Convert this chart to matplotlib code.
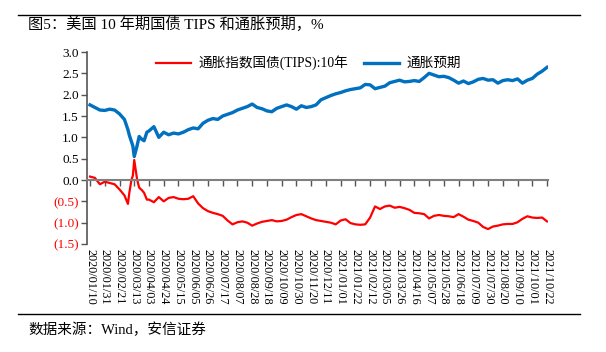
import matplotlib
matplotlib.use("Agg")
import matplotlib.pyplot as plt
import matplotlib.dates as mdates
from matplotlib.lines import Line2D
from matplotlib.ticker import FuncFormatter, MultipleLocator
import pandas as pd

plt.rcParams['font.family'] = ['Liberation Serif', 'Noto Sans CJK SC']
plt.rcParams['axes.unicode_minus'] = False

# weekly readings (Fridays) from 2020/01/10 to 2021/10/22
weekly_dates = pd.date_range('2020-01-10', '2021-10-22', freq='W-FRI')
breakeven = [
    1.76, 1.70, 1.64, 1.63, 1.66, 1.64, 1.55, 1.42, 1.05, 0.55,
    1.02, 0.92, 1.15, 1.25, 1.00, 1.12, 1.06, 1.10, 1.08, 1.12,
    1.18, 1.22, 1.20, 1.33, 1.40, 1.44, 1.42, 1.50, 1.54, 1.58,
    1.64, 1.68, 1.72, 1.78, 1.70, 1.67, 1.62, 1.60, 1.68, 1.72,
    1.76, 1.72, 1.66, 1.74, 1.70, 1.72, 1.76, 1.88, 1.93, 1.98,
    2.02, 2.05, 2.09, 2.12, 2.14, 2.16, 2.24, 2.23, 2.14, 2.17,
    2.20, 2.28, 2.31, 2.34, 2.30, 2.31, 2.33, 2.31, 2.40, 2.50,
    2.46, 2.42, 2.43, 2.40, 2.34, 2.27, 2.32, 2.26, 2.30, 2.36,
    2.38, 2.34, 2.35, 2.27, 2.33, 2.35, 2.33, 2.37, 2.27, 2.34,
    2.38, 2.48, 2.55, 2.64,
]
tips = [
    0.08, 0.05, -0.10, -0.04, -0.07, -0.10, -0.22, -0.36, -0.30, 0.47,
    -0.18, -0.30, -0.46, -0.52, -0.40, -0.50, -0.42, -0.40, -0.44, -0.45,
    -0.44, -0.38, -0.55, -0.66, -0.73, -0.77, -0.80, -0.84, -0.95, -1.04,
    -0.99, -0.97, -1.00, -1.07, -1.02, -0.98, -0.96, -0.94, -0.97, -0.96,
    -0.93, -0.87, -0.82, -0.80, -0.85, -0.90, -0.94, -0.96, -0.98, -1.00,
    -1.04, -0.95, -0.92, -1.01, -1.04, -1.05, -1.04, -0.88, -0.62, -0.68,
    -0.62, -0.60, -0.65, -0.63, -0.66, -0.70, -0.77, -0.78, -0.80, -0.90,
    -0.84, -0.82, -0.84, -0.85, -0.87, -0.80, -0.86, -0.93, -0.96, -1.00,
    -1.10, -1.15, -1.09, -1.07, -1.04, -1.03, -1.03, -0.99, -0.91, -0.85,
    -0.88, -0.89, -0.88, -0.97,
]

# extra readings around the March 2020 turmoil
crash_dates = pd.to_datetime(['2020-03-04', '2020-03-09', '2020-03-11',
                              '2020-03-17', '2020-03-24', '2020-03-31'])
crash_breakeven = [1.18, 0.90, 0.80, 0.80, 0.95, 1.12]
crash_tips = [-0.56, 0.00, 0.10, 0.02, -0.24, -0.46]

tick_dates = pd.date_range('2020-01-10', '2021-10-22', freq='21D')

title = '图5：美国 10 年期国债 TIPS 和通胀预期，%'
source = '数据来源：Wind，安信证券'
tips_label = '通胀指数国债(TIPS):10年'
be_label = '通胀预期'

df = pd.concat([
    pd.DataFrame({'date': weekly_dates, 'be': breakeven, 'tips': tips}),
    pd.DataFrame({'date': crash_dates, 'be': crash_breakeven, 'tips': crash_tips}),
]).sort_values('date')

fig = plt.figure(figsize=(6.06, 3.52), dpi=100)
ax = fig.add_axes([87 / 606, 1 - 244 / 352, 461 / 606, 192 / 352])

red = '#FF0000'
blue = '#0070C0'
ax.plot(df['date'], df['tips'], color=red, lw=1.6, label=tips_label)
ax.plot(df['date'], df['be'], color=blue, lw=2.4, label=be_label)

ax.set_ylim(-1.5, 3.0)
ax.yaxis.set_major_locator(MultipleLocator(0.5))
ax.yaxis.set_major_formatter(FuncFormatter(
    lambda v, p: f'({abs(v):.1f})' if v < -1e-9 else f'{abs(v):.1f}'))
ax.set_xlim(pd.Timestamp('2020-01-10') - pd.Timedelta(days=4.3),
            pd.Timestamp('2021-10-22') + pd.Timedelta(days=1.4))
ax.set_xticks(tick_dates)
ax.xaxis.set_major_formatter(mdates.DateFormatter('%Y/%m/%d'))

for s in ['top', 'right']:
    ax.spines[s].set_visible(False)
ax.spines['bottom'].set_position(('data', 0))
ax.spines['bottom'].set_color('#808080')
ax.spines['bottom'].set_linewidth(1.5)
ax.spines['left'].set_color('#555555')
ax.spines['left'].set_linewidth(1.2)

ax.tick_params(axis='y', labelsize=9.5, length=4, width=1, color='#555555', pad=2)
ax.tick_params(axis='x', labelsize=8.8, length=4, width=1, color='#555555',
               pad=46, labelrotation=-90)
for lab in ax.get_xticklabels():
    lab.set_va('top')
    lab.set_ha('center')
for lab, v in zip(ax.get_yticklabels(), ax.get_yticks()):
    if v < -1e-9:
        lab.set_color(red)

ax.legend(loc='upper center', bbox_to_anchor=(0.48, 1.045), ncol=2, frameon=False,
          fontsize=9.8, handlelength=2.6, columnspacing=1.2, handletextpad=0.5)

fig.add_artist(Line2D([18 / 606, 580 / 606], [1 - 15 / 352, 1 - 15 / 352],
                      color='black', lw=1))
fig.add_artist(Line2D([18 / 606, 580 / 606], [1 - 314 / 352, 1 - 314 / 352],
                      color='black', lw=1))
fig.text(28 / 606, 1 - 24 / 352, title, fontsize=11, va='center', ha='left')
fig.text(28 / 606, 1 - 330 / 352, source, fontsize=10.5, va='center', ha='left')

fig.savefig('out.png', dpi=100)
